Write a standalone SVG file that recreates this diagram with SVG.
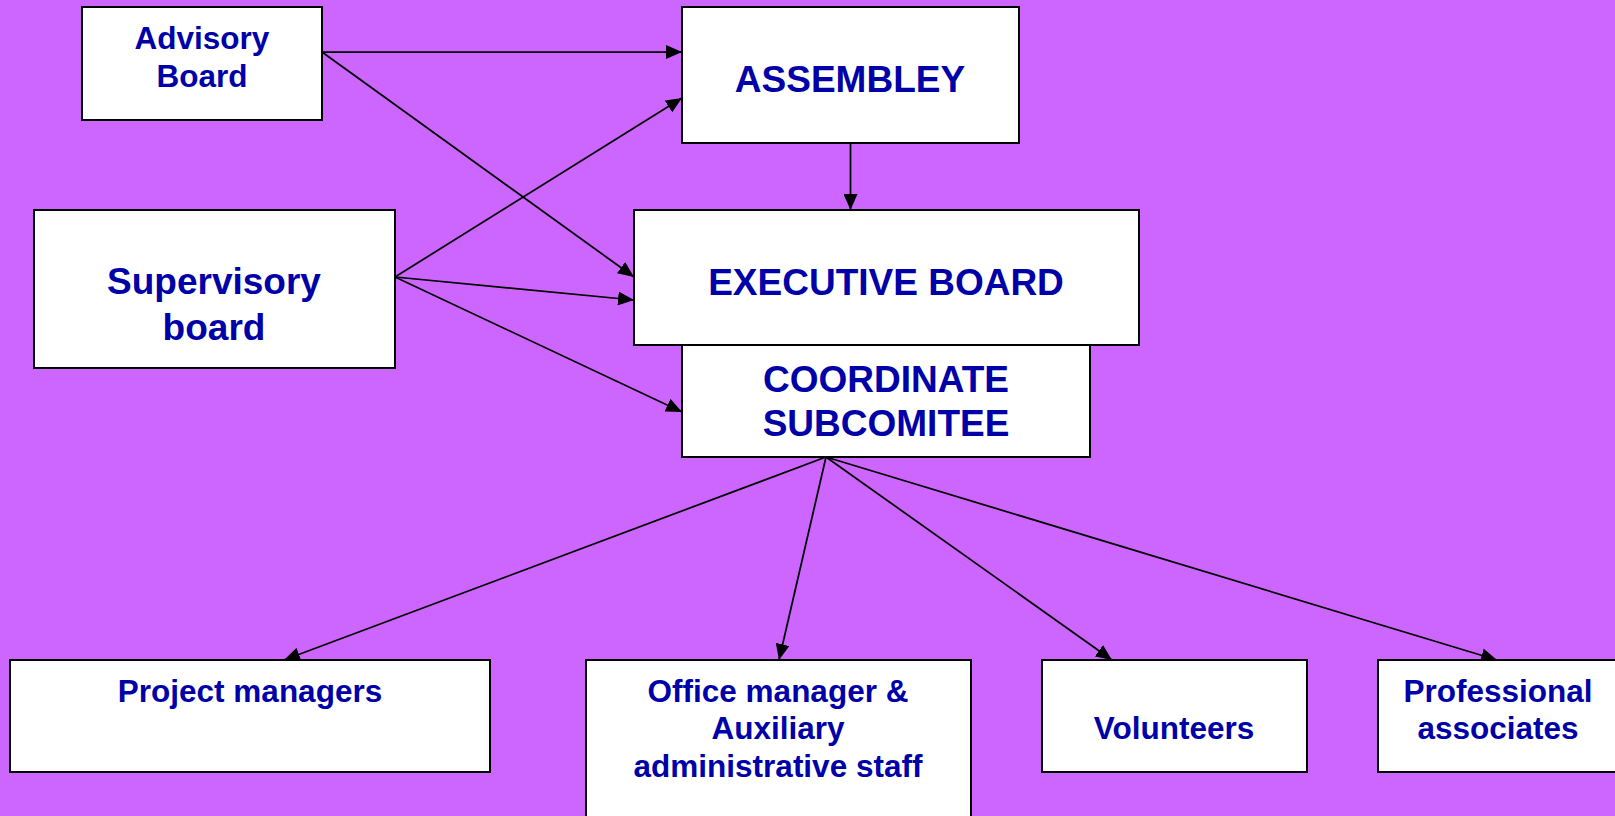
<svg xmlns="http://www.w3.org/2000/svg" width="1615" height="816" viewBox="0 0 1615 816">
<style>
.box{fill:#ffffff;stroke:#000000;stroke-width:2}
.t{font-family:"Liberation Sans",Arial,sans-serif;font-weight:bold;fill:#0000A8;text-anchor:middle}
.big{font-size:37px}
.sm{font-size:31.5px}
.c{stroke:#000000;stroke-width:1.75;fill:none;marker-end:url(#ah)}
</style>
<defs>
<marker id="ah" markerUnits="userSpaceOnUse" markerWidth="16" markerHeight="14" refX="16" refY="7" orient="auto">
<path d="M0,0 L16,7 L0,14 Z" fill="#000000"/>
</marker>
</defs>
<rect x="0" y="0" width="1615" height="816" fill="#CC66FF"/>
<g id="connectors">
<line class="c" x1="322" y1="52" x2="682" y2="52"/>
<line class="c" x1="322" y1="52" x2="634" y2="277"/>
<line class="c" x1="395" y1="277" x2="682" y2="98"/>
<line class="c" x1="395" y1="277" x2="634" y2="300"/>
<line class="c" x1="395" y1="277" x2="682" y2="412"/>
<line class="c" x1="850.5" y1="143" x2="850.5" y2="210"/>
<line class="c" x1="826" y1="457" x2="284" y2="660"/>
<line class="c" x1="826" y1="457" x2="779" y2="660"/>
<line class="c" x1="826" y1="457" x2="1112" y2="660"/>
<line class="c" x1="826" y1="457" x2="1497" y2="660"/>
</g>
<g id="advisory">
<rect class="box" x="82" y="7" width="240" height="113"/>
<text class="t sm" x="202" y="49">Advisory</text>
<text class="t sm" x="202" y="87">Board</text>
</g>
<g id="supervisory">
<rect class="box" x="34" y="210" width="361" height="158"/>
<text class="t big" x="214" y="294">Supervisory</text>
<text class="t big" x="214" y="340">board</text>
</g>
<g id="assembley">
<rect class="box" x="682" y="7" width="337" height="136"/>
<text class="t big" x="850" y="92">ASSEMBLEY</text>
</g>
<g id="coordinate">
<rect class="box" x="682" y="330" width="408" height="127"/>
<text class="t big" x="886" y="392">COORDINATE</text>
<text class="t big" x="886" y="436">SUBCOMITEE</text>
</g>
<g id="executive">
<rect class="box" x="634" y="210" width="505" height="135"/>
<text class="t big" x="886" y="295">EXECUTIVE BOARD</text>
</g>
<g id="project">
<rect class="box" x="10" y="660" width="480" height="112"/>
<text class="t sm" x="250" y="702">Project managers</text>
</g>
<g id="office">
<rect class="box" x="586" y="660" width="385" height="170"/>
<text class="t sm" x="778" y="702">Office manager &amp;</text>
<text class="t sm" x="778" y="739">Auxiliary</text>
<text class="t sm" x="778" y="777">administrative staff</text>
</g>
<g id="volunteers">
<rect class="box" x="1042" y="660" width="265" height="112"/>
<text class="t sm" x="1174" y="739">Volunteers</text>
</g>
<g id="professional">
<rect class="box" x="1378" y="660" width="250" height="112"/>
<text class="t sm" x="1498" y="702">Professional</text>
<text class="t sm" x="1498" y="739">associates</text>
</g>
</svg>
